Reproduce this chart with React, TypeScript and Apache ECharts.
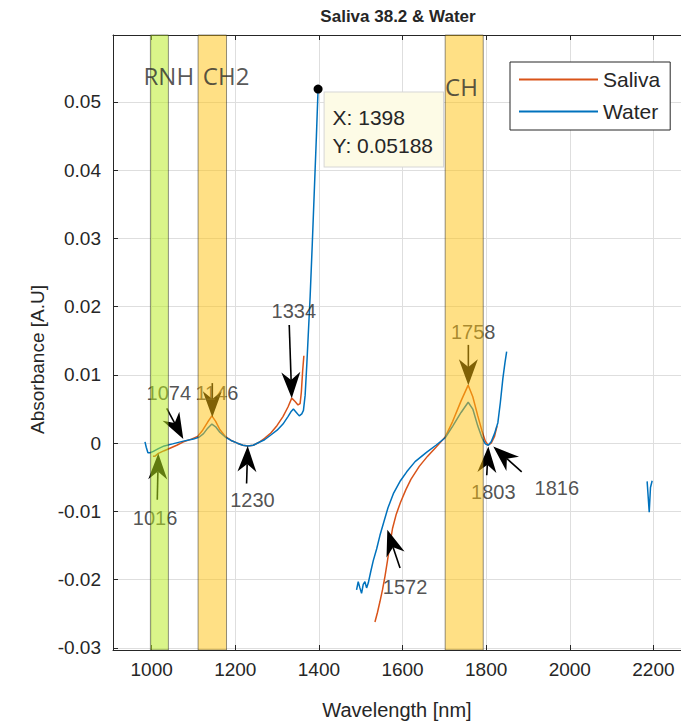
import React, { useEffect, useRef } from "react";
import * as echarts from "echarts";

// Axis ticks
const xTicks = [1000, 1200, 1400, 1600, 1800, 2000, 2200];
const yTicks = [-0.03, -0.02, -0.01, 0, 0.01, 0.02, 0.03, 0.04, 0.05];

// Spectra (wavelength nm, absorbance)
const salivaSeg1: number[][] = [
  [1003, -0.0019], [1008, -0.0019], [1016, -0.0015], [1030, -0.0011], [1045, -0.0007],
  [1060, -0.0003], [1076, 0.0002], [1095, 0.0006], [1110, 0.001], [1122, 0.0019],
  [1134, 0.0031], [1144, 0.004], [1153, 0.0032], [1163, 0.002], [1176, 0.001],
  [1190, 0.0004], [1205, 0.0], [1218, -0.0003], [1230, -0.0004], [1243, -0.0003],
  [1256, 0.0001], [1270, 0.0007], [1285, 0.0015], [1300, 0.0026], [1314, 0.0039],
  [1326, 0.0053], [1335, 0.0066], [1343, 0.0061], [1350, 0.0056], [1355, 0.0058],
  [1358, 0.0075], [1361, 0.0105], [1364, 0.0128],
];
const salivaSeg2: number[][] = [
  [1534, -0.0262], [1540, -0.0248], [1546, -0.0232], [1552, -0.0215], [1558, -0.0195],
  [1564, -0.0172], [1570, -0.0148], [1576, -0.0125], [1585, -0.0104], [1595, -0.0087],
  [1608, -0.0068], [1620, -0.0053], [1640, -0.0034], [1660, -0.0019], [1680, -0.0006],
  [1702, 0.0009], [1720, 0.0032], [1740, 0.0062], [1757, 0.0085], [1768, 0.0068],
  [1780, 0.004], [1790, 0.0018], [1798, 0.0003], [1805, -0.0003], [1812, 0.0],
  [1820, 0.001], [1826, 0.0025],
];
const waterSeg1: number[][] = [
  [984, 0.0002], [987, -0.0006], [991, -0.0014], [996, -0.0014], [1004, -0.0012],
  [1016, -0.0008], [1030, -0.0004], [1050, -0.0001], [1076, 0.0003], [1100, 0.0006],
  [1114, 0.0009], [1124, 0.0014], [1134, 0.0022], [1144, 0.0028], [1153, 0.0024],
  [1163, 0.0016], [1176, 0.0009], [1190, 0.0004], [1205, 0.0], [1218, -0.0003],
  [1230, -0.0004], [1243, -0.0003], [1256, 0.0001], [1270, 0.0005], [1285, 0.0012],
  [1300, 0.0019], [1314, 0.0028], [1326, 0.0039], [1333, 0.0046], [1339, 0.005],
  [1346, 0.0045], [1353, 0.004], [1359, 0.0043], [1363, 0.0048], [1367, 0.007],
  [1371, 0.0115], [1375, 0.0165], [1379, 0.0215], [1384, 0.029], [1389, 0.037],
  [1394, 0.045], [1398, 0.05188],
];
const waterSeg2: number[][] = [
  [1490, -0.0215], [1494, -0.0203], [1498, -0.0212], [1502, -0.022], [1506, -0.0207],
  [1510, -0.0203], [1514, -0.0212], [1518, -0.0205], [1524, -0.0188], [1530, -0.0172],
  [1538, -0.0155], [1546, -0.0135], [1554, -0.0118], [1565, -0.0095], [1578, -0.0074],
  [1595, -0.0055], [1610, -0.0042], [1630, -0.0027], [1658, -0.0013], [1680, -0.0003],
  [1702, 0.0008], [1720, 0.0025], [1740, 0.0045], [1757, 0.006], [1768, 0.005],
  [1780, 0.0025], [1790, 0.0008], [1798, -0.0001], [1805, -0.0003], [1812, 0.0002],
  [1820, 0.0014], [1828, 0.003], [1834, 0.006], [1840, 0.0095], [1845, 0.0118],
  [1849, 0.0134],
];
const waterSeg3: number[][] = [
  [2185, -0.0056], [2190, -0.0101], [2193, -0.0065], [2197, -0.0055],
];

// Highlighted bands
const bandNames = ["RNH", "CH2", "CH"];
const bandRanges = [[997, 1040], [1111, 1179], [1702, 1793]];
const bandColors = ["rgba(185,235,30,0.52)", "rgba(255,193,11,0.5)", "rgba(255,193,11,0.5)"];
const bandLabelPos = [[1041, 0.0539], [1178, 0.0539], [1741, 0.0522]];

// Peak annotations
const peakLabels = ["1016", "1074", "1146", "1230", "1334", "1758", "1803", "1816", "1572"];
const peakLabelPos = [
  [1008, -0.011], [1041, 0.0073], [1156, 0.0073], [1241, -0.0083], [1340, 0.0193],
  [1769, 0.0163], [1817, -0.0071], [1969, -0.0066], [1606, -0.021],
];
const arrowFrom = [
  [1013.4, -0.0083], [1036, 0.0051], [1145, 0.0088], [1227, -0.0059], [1329, 0.0173],
  [1757.4, 0.0144], [1801.4, -0.0047], [1885, -0.0042], [1594, -0.0183],
];
const arrowTo = [
  [1015.8, -0.0015], [1075.6, 0.0006], [1145, 0.0038], [1229.7, -0.0004], [1335, 0.0066],
  [1757.4, 0.0085], [1805.3, -0.0005], [1817, -0.0005], [1563.6, -0.0127],
];

// Data tip
const tipPoint = [1398, 0.05188];

const FONT = "Liberation Sans, Arial, sans-serif";
const INK = "#262626";
const ORANGE = "#D95319";
const BLUE = "#0072BD";

export default function App() {
  const ref = useRef<HTMLDivElement>(null);
  useEffect(() => {
    if (!ref.current) return;
    const chart = echarts.init(ref.current, undefined, { renderer: "svg" });
    const xMin = 907.5;
    const xMax = 2266;
    const yMin = -0.0303;
    const yMax = 0.0598;

    const lineSeries = (name: string, data: number[][], color: string, extra: any = {}) => ({
      type: "line",
      name,
      data,
      showSymbol: false,
      symbol: "none",
      smooth: false,
      lineStyle: { color, width: 1.5 },
      itemStyle: { color },
      silent: true,
      z: 2,
      ...extra,
    });

    const arrowData = arrowFrom.map((f, i) => [f[0], f[1], arrowTo[i][0], arrowTo[i][1]]);

    const option: any = {
      animation: false,
      backgroundColor: "#ffffff",
      textStyle: { fontFamily: FONT },
      title: {
        text: "Saliva 38.2 & Water",
        left: 398,
        top: 8,
        textAlign: "center",
        padding: 0,
        textStyle: { fontSize: 17, fontWeight: "bold", color: INK, fontFamily: FONT },
      },
      legend: {
        data: ["Saliva", "Water"],
        orient: "vertical",
        left: 510,
        top: 62,
        icon: "rect",
        itemWidth: 79,
        itemHeight: 2,
        itemGap: 11,
        padding: [7, 10, 8, 9],
        borderColor: INK,
        borderWidth: 1,
        backgroundColor: "#ffffff",
        selectedMode: false,
        textStyle: { fontSize: 21, color: INK, fontFamily: FONT },
      },
      grid: { left: 113, right: 0, top: 35, bottom: 76, containLabel: false },
      xAxis: [
        {
          type: "value",
          min: xMin,
          max: xMax,
          name: "Wavelength [nm]",
          nameLocation: "middle",
          nameGap: 50,
          nameTextStyle: { fontSize: 20, color: INK, fontFamily: FONT },
          axisLine: { show: true, onZero: false, lineStyle: { color: INK, width: 1 } },
          axisTick: { show: true, inside: true, length: 5, customValues: xTicks, lineStyle: { color: INK } },
          axisLabel: {
            show: true,
            customValues: xTicks,
            margin: 10,
            fontSize: 19,
            color: INK,
            fontFamily: FONT,
            formatter: (v: number) => String(Math.round(v)),
          },
          splitLine: { show: true, lineStyle: { color: "#dedede", width: 1 } },
        },
        {
          type: "value",
          position: "top",
          min: xMin,
          max: xMax,
          axisLine: { show: true, onZero: false, lineStyle: { color: INK, width: 1 } },
          axisTick: { show: true, inside: true, length: 5, customValues: xTicks, lineStyle: { color: INK } },
          axisLabel: { show: false },
          splitLine: { show: false },
        },
      ],
      yAxis: {
        type: "value",
        min: yMin,
        max: yMax,
        name: "Absorbance [A.U]",
        nameLocation: "middle",
        nameGap: 65,
        nameTextStyle: { fontSize: 19, color: INK, fontFamily: FONT, padding: [0, 34, 0, 0] },
        axisLine: { show: true, onZero: false, lineStyle: { color: INK, width: 1 } },
        axisTick: { show: true, inside: true, length: 5, customValues: yTicks, lineStyle: { color: INK } },
        axisLabel: {
          show: true,
          customValues: yTicks,
          margin: 12,
          fontSize: 19,
          color: INK,
          fontFamily: FONT,
          formatter: (v: number) => (Math.abs(v) < 1e-9 ? "0" : v.toFixed(2)),
        },
        splitLine: { show: true, lineStyle: { color: "#dedede", width: 1 } },
      },
      series: [
        lineSeries("Saliva", salivaSeg1, ORANGE),
        lineSeries("Saliva", salivaSeg2, ORANGE),
        lineSeries("Water", waterSeg1, BLUE, {
          markPoint: {
            silent: true,
            symbol: "circle",
            symbolSize: 9,
            itemStyle: { color: "#000000" },
            data: [
              {
                coord: tipPoint,
                label: {
                  show: true,
                  position: [11, 8],
                  formatter: () => `X: ${tipPoint[0]}\nY: ${tipPoint[1]}`,
                  backgroundColor: "#FDFBE6",
                  borderColor: "#d6d6d6",
                  borderWidth: 1,
                  padding: [11, 10, 7, 8],
                  fontSize: 21,
                  lineHeight: 28,
                  color: INK,
                  fontFamily: FONT,
                  align: "left",
                },
              },
            ],
          },
        }),
        lineSeries("Water", waterSeg2, BLUE),
        lineSeries("Water", waterSeg3, BLUE),
        {
          type: "custom",
          name: "arrows",
          silent: true,
          z: 3,
          data: arrowData,
          encode: { x: [0, 2], y: [1, 3] },
          renderItem: (params: any, api: any) => {
            const p1 = api.coord([api.value(0), api.value(1)]);
            const p2 = api.coord([api.value(2), api.value(3)]);
            const dx = p2[0] - p1[0];
            const dy = p2[1] - p1[1];
            const len = Math.hypot(dx, dy) || 1;
            const ux = dx / len;
            const uy = dy / len;
            const L = 26;
            const W = 19;
            const N = 0.7 * L;
            const bx = p2[0] - ux * L;
            const by = p2[1] - uy * L;
            const nx = p2[0] - ux * N;
            const ny = p2[1] - uy * N;
            const px = -uy;
            const py = ux;
            return {
              type: "group",
              children: [
                {
                  type: "line",
                  shape: { x1: p1[0], y1: p1[1], x2: nx, y2: ny },
                  style: { stroke: "#000000", lineWidth: 1.6 },
                },
                {
                  type: "polygon",
                  shape: {
                    points: [
                      [p2[0], p2[1]],
                      [bx + (px * W) / 2, by + (py * W) / 2],
                      [nx, ny],
                      [bx - (px * W) / 2, by - (py * W) / 2],
                    ],
                  },
                  style: { fill: "#000000" },
                },
              ],
            };
          },
        },
        {
          type: "scatter",
          name: "peaks",
          silent: true,
          z: 3,
          symbolSize: 1,
          itemStyle: { color: "rgba(0,0,0,0)" },
          data: peakLabelPos.map((p, i) => ({ value: p, name: peakLabels[i] })),
          label: {
            show: true,
            position: "inside",
            formatter: "{b}",
            fontSize: 20,
            color: INK,
            fontFamily: FONT,
          },
        },
        {
          type: "scatter",
          name: "bands",
          silent: true,
          z: 12,
          symbolSize: 1,
          itemStyle: { color: "rgba(0,0,0,0)" },
          data: bandLabelPos.map((p, i) => ({ value: p, name: bandNames[i] })),
          label: {
            show: true,
            position: "inside",
            formatter: "{b}",
            fontSize: 24,
            color: "#2b2b2b",
            fontFamily: "Open Sans, sans-serif",
          },
          markArea: {
            silent: true,
            z: 10,
            data: bandRanges.map((r, i) => [
              {
                xAxis: r[0],
                itemStyle: {
                  color: bandColors[i],
                  borderColor: "rgba(40,40,40,0.5)",
                  borderWidth: 1,
                },
              },
              { xAxis: r[1] },
            ]),
          },
        },
      ],
    };
    chart.setOption(option);
    return () => chart.dispose();
  }, []);
  return (
    <div
      ref={ref}
      style={{ position: "absolute", left: 0, top: 0, width: 681, height: 726, background: "#fff" }}
    />
  );
}
